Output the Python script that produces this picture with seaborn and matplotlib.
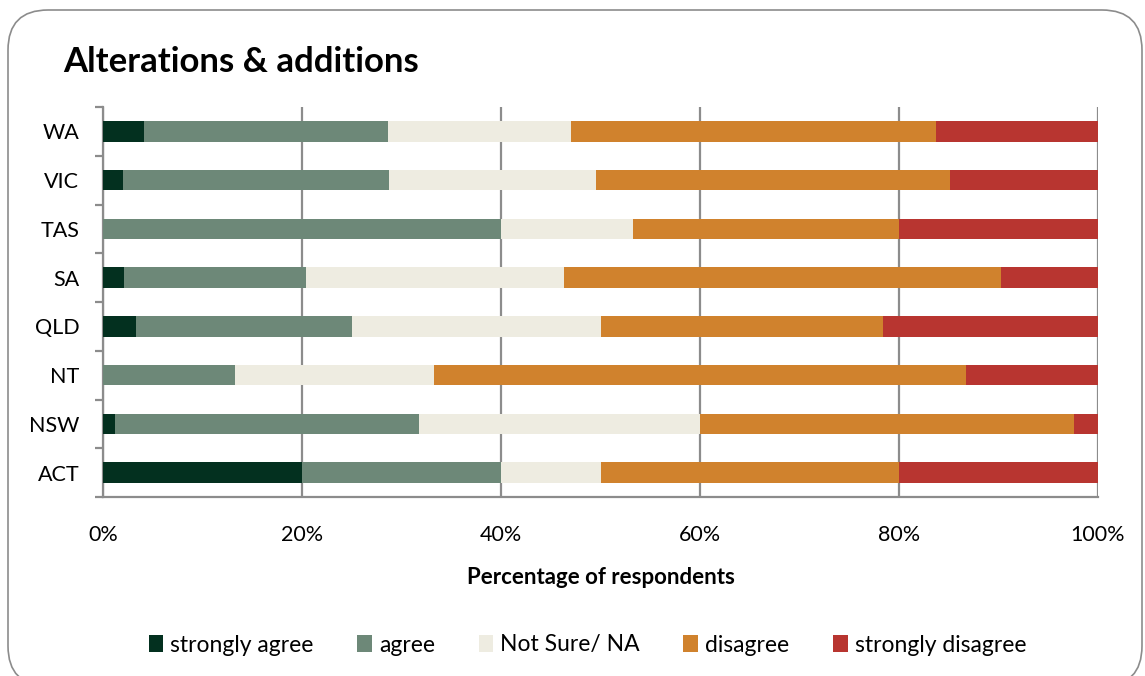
import numpy as np
import pandas as pd
import seaborn as sns
import matplotlib
matplotlib.use("Agg")
import matplotlib.pyplot as plt
from matplotlib.patches import Patch, FancyBboxPatch

# data: percentage of respondents per state (top to bottom)
states = ["WA", "VIC", "TAS", "SA", "QLD", "NT", "NSW", "ACT"]
strongly_agree = [4.1, 2.0, 0.0, 2.1, 3.3, 0.0, 1.2, 20.0]
agree = [24.5, 26.7, 40.0, 18.3, 21.7, 13.3, 30.6, 20.0]
not_sure = [18.4, 20.8, 13.3, 25.9, 25.0, 20.0, 28.2, 10.0]
disagree = [36.7, 35.6, 26.7, 44.0, 28.4, 53.4, 37.6, 30.0]
strongly_disagree = [16.3, 14.9, 20.0, 9.7, 21.6, 13.3, 2.4, 20.0]

series = ["strongly agree", "agree", "Not Sure/ NA", "disagree", "strongly disagree"]
colors = ["#03301f", "#6d8878", "#eeece1", "#d0822d", "#b83530"]

df = pd.DataFrame({
    "state": states,
    "strongly agree": strongly_agree,
    "agree": agree,
    "Not Sure/ NA": not_sure,
    "disagree": disagree,
    "strongly disagree": strongly_disagree,
})
cum = df[series].cumsum(axis=1)
cum = cum.div(cum["strongly disagree"], axis=0) * 100
cum["state"] = df["state"]

sns.set_style("white")
plt.rcParams["font.family"] = ["Lato", "DejaVu Sans"]

fig = plt.figure(figsize=(11.45, 6.76), dpi=100)
ax = fig.add_axes([103 / 1145, 1 - 497 / 676, 995 / 1145, 390 / 676])

# stacked bars: draw cumulative totals from the right-most segment backwards
for name, color in reversed(list(zip(series, colors))):
    sns.barplot(data=cum, y="state", x=name, color=color, orient="h",
                width=0.42, ax=ax, saturation=1, linewidth=0, zorder=3)

ax.set_xlim(0, 100)
ax.set_ylim(7.5, -0.5)
ax.set_xticks(np.arange(0, 101, 20))
ax.set_xticklabels([f"{v}%" for v in range(0, 101, 20)])
ax.xaxis.grid(True, color="#8c8c8c", linewidth=1.6, zorder=0)
ax.yaxis.grid(False)
ax.set_axisbelow(True)

ax.set_yticks(np.arange(-0.5, 8, 1), minor=True)
ax.tick_params(axis="y", which="minor", length=6, width=1.6, color="#8c8c8c", left=True)
ax.tick_params(axis="y", which="major", length=0, pad=17, labelsize=15.5, labelcolor="black")
ax.tick_params(axis="x", length=0, pad=20, labelsize=15.5, labelcolor="black")

for side in ["top", "right"]:
    ax.spines[side].set_visible(False)
for side in ["left", "bottom"]:
    ax.spines[side].set_color("#8c8c8c")
    ax.spines[side].set_linewidth(1.6)

ax.set_ylabel("")
ax.set_xlabel("Percentage of respondents", fontsize=16, fontweight="bold",
              labelpad=16, color="black")

fig.text(63 / 1145, 1 - 62 / 676, "Alterations & additions", fontsize=25,
         fontweight="bold", va="center", ha="left", color="black")

handles = [Patch(facecolor=c, edgecolor="none", label=s) for s, c in zip(series, colors)]
leg = fig.legend(handles=handles, loc="center", bbox_to_anchor=(0.513, 1 - 645 / 676), ncol=5,
                 frameon=False, fontsize=16.5, handlelength=0.65, handleheight=0.75,
                 handletextpad=0.3, columnspacing=1.9)
for t in leg.get_texts():
    t.set_color("black")

border = FancyBboxPatch((8 / 1145, -10 / 676), 1134 / 1145, 676 / 676,
                        boxstyle="round,pad=0,rounding_size=0.035",
                        transform=fig.transFigure, facecolor="none",
                        edgecolor="#8c8c8c", linewidth=1.2, mutation_aspect=1145 / 676)
fig.patches.append(border)

fig.savefig("out.png", dpi=100)
